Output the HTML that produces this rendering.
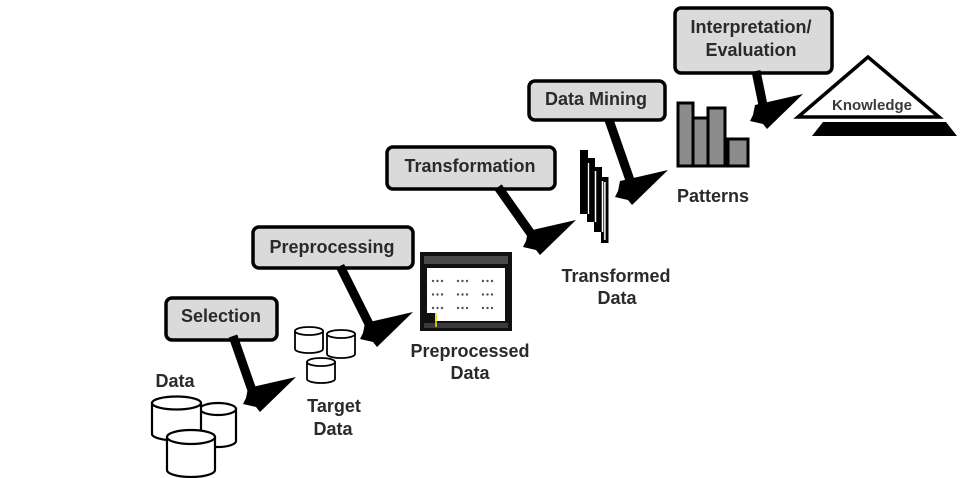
<!DOCTYPE html>
<html>
<head>
<meta charset="utf-8">
<style>
  html,body{margin:0;padding:0;background:#fff;}
  svg{display:block;}
  text{font-family:"Liberation Sans",Arial,sans-serif;font-weight:bold;fill:#2a2a2a;}
</style>
</head>
<body>
<svg width="969" height="478" viewBox="0 0 969 478" xmlns="http://www.w3.org/2000/svg">
  <rect width="969" height="478" fill="#fff"/>

  <!-- ===== Boxes ===== -->
  <g fill="#dadada" stroke="#000" stroke-width="3.5">
    <rect x="166" y="298" width="111" height="42" rx="6"/>
    <rect x="253" y="227" width="160" height="41" rx="6"/>
    <rect x="387" y="147" width="168" height="42" rx="6"/>
    <rect x="529" y="81" width="136" height="39" rx="6"/>
    <rect x="675" y="8" width="157" height="65" rx="6"/>
  </g>
  <g font-size="18" text-anchor="middle">
    <text x="221" y="322">Selection</text>
    <text x="332" y="253">Preprocessing</text>
    <text x="470" y="172">Transformation</text>
    <text x="596" y="105">Data Mining</text>
    <text x="751" y="33">Interpretation/</text>
    <text x="751" y="56">Evaluation</text>
  </g>

  <!-- ===== Arrows ===== -->
  <g stroke="#000" stroke-width="9" fill="none" stroke-linecap="butt">
    <line x1="233" y1="336" x2="254" y2="396"/>
    <line x1="340" y1="266" x2="372" y2="330"/>
    <line x1="498" y1="187" x2="534" y2="238"/>
    <line x1="609" y1="120" x2="632" y2="186"/>
    <line x1="756" y1="71" x2="764" y2="110"/>
  </g>
  <g fill="#000">
    <polygon points="296,377 260,412 256,407 243,404 246,398 248,388"/>
    <polygon points="413,312 377,347 373,342 360,339 363,333 365,323"/>
    <polygon points="576,220 540,255 536,250 523,247 526,241 528,231"/>
    <polygon points="668,170 632,205 628,200 615,197 618,191 620,181"/>
    <polygon points="803,94 767,129 763,124 750,121 753,115 755,105"/>
  </g>

  <!-- ===== Data cylinders ===== -->
  <g fill="#fff" stroke="#000" stroke-width="2.2">
    <path d="M200,409 L200,441 A18,6 0 0 0 236,441 L236,409 Z"/>
    <ellipse cx="218" cy="409" rx="18" ry="6"/>
    <path d="M152,403 L152,434 A24.5,6.5 0 0 0 201,434 L201,403 Z"/>
    <ellipse cx="176.5" cy="403" rx="24.5" ry="6.5"/>
    <path d="M167,437 L167,470 A24,7 0 0 0 215,470 L215,437 Z"/>
    <ellipse cx="191" cy="437" rx="24" ry="7"/>
  </g>
  <g font-size="18" text-anchor="middle">
    <text x="175" y="387">Data</text>
  </g>

  <!-- ===== Target cylinders ===== -->
  <g fill="#fff" stroke="#000" stroke-width="1.8">
    <path d="M295,331 L295,349 A14,4 0 0 0 323,349 L323,331 Z"/>
    <ellipse cx="309" cy="331" rx="14" ry="4"/>
    <path d="M327,334 L327,354 A14,4 0 0 0 355,354 L355,334 Z"/>
    <ellipse cx="341" cy="334" rx="14" ry="4"/>
    <path d="M307,362 L307,379 A14,4 0 0 0 335,379 L335,362 Z"/>
    <ellipse cx="321" cy="362" rx="14" ry="4"/>
  </g>
  <g font-size="18" text-anchor="middle">
    <text x="334" y="412">Target</text>
    <text x="333" y="435">Data</text>
  </g>

  <!-- ===== Preprocessed window ===== -->
  <rect x="420" y="252" width="92" height="79" fill="#111"/>
  <rect x="424" y="256" width="84" height="8" fill="#4a4a4a"/>
  <rect x="424" y="323" width="84" height="5" fill="#3a3a3a"/>
  <rect x="427" y="268" width="78" height="53" fill="#fff"/>
  <rect x="427" y="313" width="8" height="8" fill="#111"/>
  <line x1="436" y1="313" x2="436" y2="327" stroke="#e8dc00" stroke-width="1.6"/>
  <g fill="#555">
    <circle cx="433" cy="281" r="1.2"/><circle cx="437.5" cy="281" r="1.2"/><circle cx="442" cy="281" r="1.2"/>
    <circle cx="458" cy="281" r="1.2"/><circle cx="462.5" cy="281" r="1.2"/><circle cx="467" cy="281" r="1.2"/>
    <circle cx="483" cy="281" r="1.2"/><circle cx="487.5" cy="281" r="1.2"/><circle cx="492" cy="281" r="1.2"/>
    <circle cx="433" cy="294.5" r="1.2"/><circle cx="437.5" cy="294.5" r="1.2"/><circle cx="442" cy="294.5" r="1.2"/>
    <circle cx="458" cy="294.5" r="1.2"/><circle cx="462.5" cy="294.5" r="1.2"/><circle cx="467" cy="294.5" r="1.2"/>
    <circle cx="483" cy="294.5" r="1.2"/><circle cx="487.5" cy="294.5" r="1.2"/><circle cx="492" cy="294.5" r="1.2"/>
    <circle cx="433" cy="308" r="1.2"/><circle cx="437.5" cy="308" r="1.2"/><circle cx="442" cy="308" r="1.2"/>
    <circle cx="458" cy="308" r="1.2"/><circle cx="462.5" cy="308" r="1.2"/><circle cx="467" cy="308" r="1.2"/>
    <circle cx="483" cy="308" r="1.2"/><circle cx="487.5" cy="308" r="1.2"/><circle cx="492" cy="308" r="1.2"/>
  </g>
  <g font-size="18" text-anchor="middle">
    <text x="470" y="357">Preprocessed</text>
    <text x="470" y="379">Data</text>
  </g>

  <!-- ===== Transformed data stack ===== -->
  <g>
    <rect x="580" y="150" width="8" height="64" fill="#000"/>
    <rect x="587" y="158" width="8" height="64" fill="#000"/>
    <rect x="594" y="167" width="8" height="65" fill="#000"/>
    <rect x="601" y="177" width="7.5" height="66" fill="#000"/>
    <line x1="588.5" y1="163" x2="588.5" y2="214" stroke="#fff" stroke-width="1.3"/>
    <line x1="595.5" y1="171" x2="595.5" y2="222" stroke="#fff" stroke-width="1.5"/>
    <line x1="602.5" y1="181" x2="602.5" y2="232" stroke="#fff" stroke-width="1.5"/>
    <line x1="604.8" y1="182" x2="604.8" y2="240" stroke="#ddd" stroke-width="1.8"/>
  </g>
  <g font-size="18" text-anchor="middle">
    <text x="616" y="282">Transformed</text>
    <text x="617" y="304">Data</text>
  </g>

  <!-- ===== Patterns bar chart ===== -->
  <g fill="#8c8c8c" stroke="#000" stroke-width="3">
    <rect x="678" y="103" width="15" height="63"/>
    <rect x="693" y="118" width="15" height="48"/>
    <rect x="708" y="108" width="17" height="58"/>
    <rect x="728" y="139" width="20" height="27"/>
  </g>
  <line x1="725" y1="140" x2="728" y2="140" stroke="#000" stroke-width="3"/>
  <g font-size="18" text-anchor="middle">
    <text x="713" y="202">Patterns</text>
  </g>

  <!-- ===== Knowledge pyramid ===== -->
  <polygon points="868,57 798,117 939,117" fill="#fff" stroke="#000" stroke-width="3.5" stroke-linejoin="miter"/>
  <polygon points="823,122 946,122 957,136 812,136" fill="#000"/>
  <text x="872" y="110" font-size="15" text-anchor="middle" style="fill:#3a3a3a">Knowledge</text>
</svg>
</body>
</html>
